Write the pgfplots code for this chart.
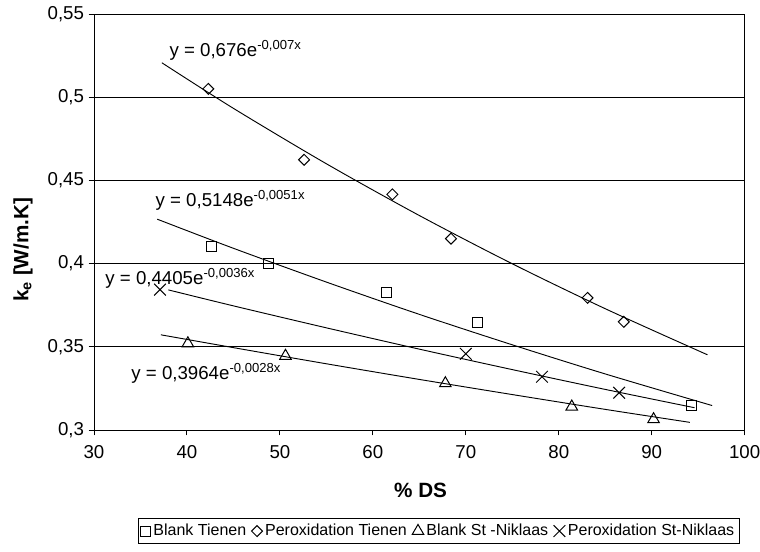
\documentclass[border=0pt]{standalone}
\usepackage{pgfplots}
\pgfplotsset{compat=1.18}
\usepackage{fontspec}
\setmainfont{Liberation Sans}
\begin{document}
\begin{tikzpicture}
\useasboundingbox (-70.5pt,-90.75pt) rectangle (499.5pt,322.5pt);
\begin{axis}[
  at={(0,0)}, anchor=south west,
  scale only axis, width=488pt, height=312pt,
  xmin=30, xmax=100, ymin=0.3, ymax=0.55,
  xtick={30,40,50,60,70,80,90,100},
  ytick={0.3,0.35,0.4,0.45,0.5,0.55},
  yticklabels={{0,3},{0,35},{0,4},{0,45},{0,5},{0,55}},
  /pgf/number format/assume math mode=true,
  tick style={black, line width=0.7pt},
  tick align=outside, major tick length=4pt,
  xtick pos=bottom, ytick pos=left,
  ymajorgrids, grid style={black, line width=0.7pt},
  axis line style={black, line width=0.7pt},
  tick label style={font=\fontsize{14}{16}\selectfont},
  xticklabel style={yshift=-4pt},
  xlabel={\textbf{\% DS}}, ylabel={\textbf{k\textsubscript{e} [W/m.K]}},
  label style={font=\fontsize{15.5}{18}\selectfont},
  xlabel style={at={(axis description cs:0.502,-0.144)}, anchor=center},
  ylabel style={at={(axis description cs:-0.109,0.433)}, anchor=center},
  legend columns=4,
  legend style={at={(0.53,-0.243)}, anchor=center, draw=black, line width=0.7pt,
    font=\fontsize{12}{14}\selectfont, inner sep=2pt,
    /tikz/every even column/.append style={column sep=2pt}},
  legend cell align=left,
]
% data points
\addplot[only marks, mark=square, mark size=3.75pt, mark options={line width=0.75pt, fill=white}] coordinates {
(42.6,0.4102) (48.8,0.400) (61.5,0.3826) (71.3,0.3644) (94.3,0.315)};
\addlegendentry{Blank Tienen}
\addplot[only marks, mark=square, mark size=2.9pt, mark options={rotate=45, line width=0.75pt, fill=white}] coordinates {
(42.3,0.505) (52.6,0.4624) (62.1,0.4416) (68.4,0.415) (83.1,0.3794) (87.0,0.365)};
\addlegendentry{Peroxidation Tienen}
\addplot[only marks, mark=triangle, mark size=5pt, mark options={line width=0.75pt, fill=white}] coordinates {
(40.1,0.3520) (50.6,0.3445) (67.8,0.3280) (81.4,0.3140) (90.2,0.3064)};
\addlegendentry{Blank St -Niklaas}
\addplot[only marks, mark=x, mark size=6.2pt, mark options={line width=0.75pt}] coordinates {
(37.1,0.3844) (70.0,0.3458) (78.2,0.332) (86.5,0.3224)};
\addlegendentry{Peroxidation St-Niklaas}
% trendlines
\addplot[black, line width=0.7pt, smooth, forget plot] coordinates {
(37.3,0.5207) (45,0.4933) (55,0.4600) (65,0.4289) (75,0.3999) (85,0.3729) (96,0.3452)};
\addplot[black, line width=0.7pt, smooth, forget plot] coordinates {
(36.8,0.4267) (45,0.4092) (55,0.3889) (65,0.3695) (75,0.3512) (85,0.3337) (96.5,0.3147)};
\addplot[black, line width=0.7pt, smooth, forget plot] coordinates {
(38,0.3842) (45,0.3746) (55,0.3614) (65,0.3486) (75,0.3363) (85,0.3244) (94.6,0.3134)};
\addplot[black, line width=0.7pt, smooth, forget plot] coordinates {
(37.2,0.3572) (45,0.3495) (55,0.3398) (65,0.3304) (75,0.3213) (85,0.3124) (94.1,0.3046)};
% equations
\node[anchor=west, font=\fontsize{14}{16}\selectfont, inner sep=0pt] at (axis cs:38.1,0.528) {y = 0,676e\textsuperscript{-0,007x}};
\node[anchor=west, font=\fontsize{14}{16}\selectfont, inner sep=0pt] at (axis cs:36.6,0.438) {y = 0,5148e\textsuperscript{-0,0051x}};
\node[anchor=west, font=\fontsize{14}{16}\selectfont, inner sep=0pt] at (axis cs:31.2,0.391) {y = 0,4405e\textsuperscript{-0,0036x}};
\node[anchor=west, font=\fontsize{14}{16}\selectfont, inner sep=0pt] at (axis cs:34.0,0.334) {y = 0,3964e\textsuperscript{-0,0028x}};
\end{axis}
\end{tikzpicture}
\end{document}
